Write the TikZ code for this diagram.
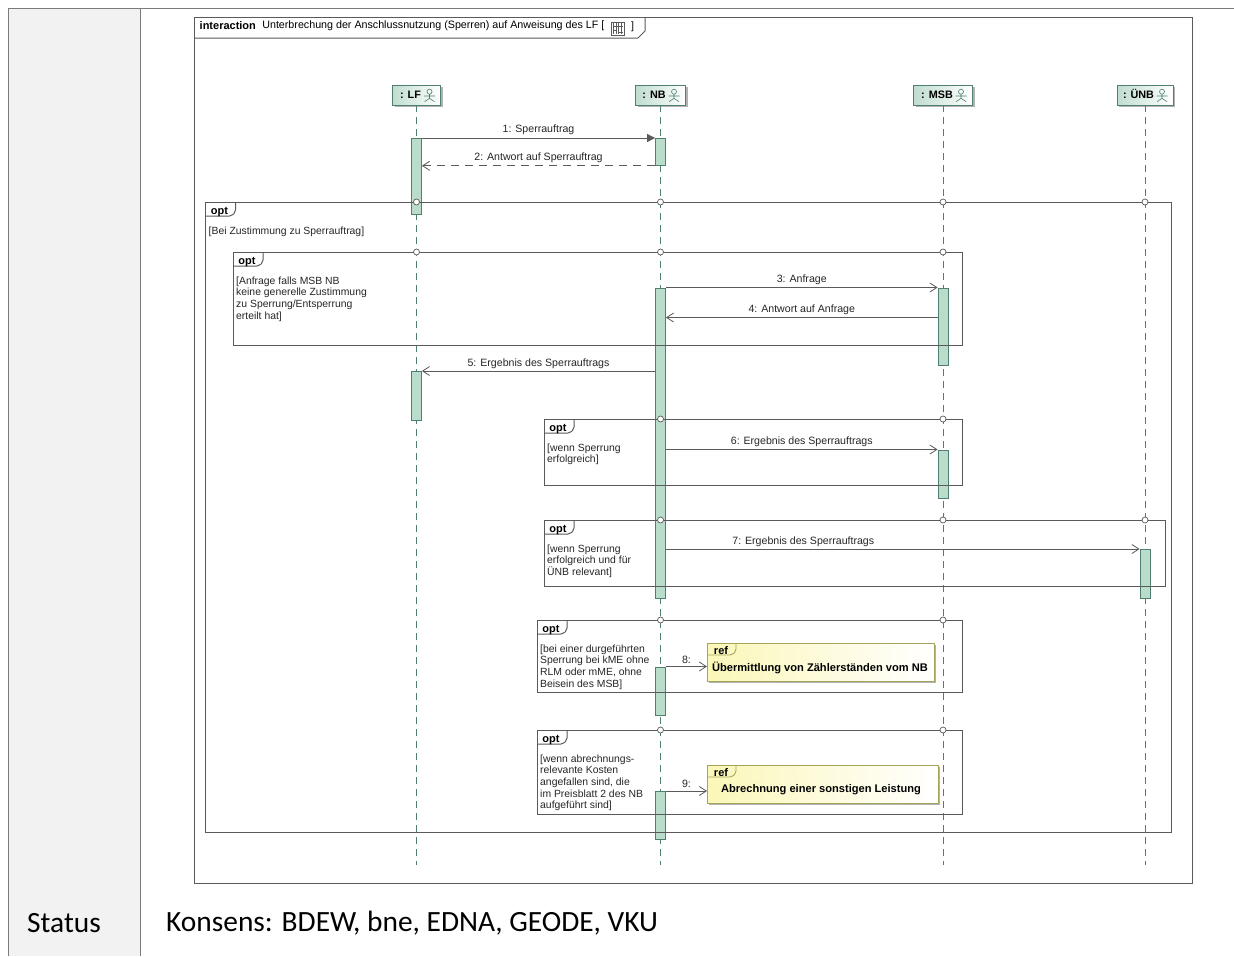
\documentclass[tikz,border=0pt]{standalone}
\usepackage{fontspec}
\setmainfont{Liberation Sans}
\newfontfamily\statusfont{Carlito}
\usetikzlibrary{positioning,shadows,arrows.meta}
\definecolor{linegray}{HTML}{5A5A5A}
\definecolor{lifegreen}{HTML}{4F7F70}
\definecolor{barfill}{HTML}{BADCCB}
\definecolor{headfill}{HTML}{BFDDCF}
\definecolor{reffill}{HTML}{FBF7B8}
\definecolor{refline}{HTML}{A5A55A}
\tikzset{
    lifehead/.style={draw=lifegreen,line width=0.9pt,left color=headfill,right color=white,minimum height=20pt,inner sep=0pt,text height=8pt,text depth=2pt,font=\fontsize{10.8}{12}\selectfont\bfseries,drop shadow={shadow xshift=2pt,shadow yshift=-2pt,fill=gray,opacity=0.6}},
    lifeline/.style={draw=lifegreen,line width=0.8pt,dash pattern=on 7pt off 5pt},
    bar/.style={draw=lifegreen,line width=0.8pt,fill=barfill,minimum width=10pt,inner sep=0pt,anchor=north},
    fragment/.style={draw=linegray,line width=1pt},
    fragdot/.style={circle,draw=linegray,fill=white,line width=0.7pt,minimum size=6pt,inner sep=0pt},
    msgline/.style={draw=linegray,line width=0.8pt},
    msgtext/.style={font=\fontsize{10.6}{12}\selectfont,text=black!85,inner sep=0pt},
    guardtext/.style={font=\fontsize{10.4}{11.6}\selectfont,text=black!85,align=left,anchor=north west,inner sep=0pt},
    tabtext/.style={font=\fontsize{11}{12}\selectfont\bfseries,inner sep=0pt},
    refbox/.style={draw=refline,line width=0.9pt,left color=reffill,right color=white,inner sep=0pt,anchor=north west,drop shadow={shadow xshift=2pt,shadow yshift=-2pt,fill=gray,opacity=0.6}},
    reftext/.style={font=\fontsize{11.1}{12}\selectfont\bfseries,inner sep=0pt},
    opena/.style={-{Straight Barb[length=7pt,width=9pt]}},
    fulla/.style={-{Triangle[length=8pt,width=8pt]}},
}
% frame with its tab: name, top left, bottom right, text
\newcommand{\optframe}[4]{
    \coordinate (#1) at (#2);
    \coordinate (#1e) at (#3);
    \draw[fragment] (#1) rectangle (#1e);
    \draw[fragment,rounded corners=2pt] (#1) ++(30,0) -- ++(0,10) -- ++(-4,4) -- ++(-26,0);
    \node[tabtext] (#1t) at ([xshift=14pt,yshift=-10pt]#1) {opt};
    \node[guardtext] (#1g) at ([xshift=3pt,yshift=-24.5pt]#1) {#4};
}
\newcommand{\actoricon}[1]{
    \begin{scope}[shift={(#1)},draw=lifegreen,line width=0.6pt]
        \draw (0,-3.3) circle (2.5);
        \draw (0,-0.8) -- (0,3.3) (-5.5,1) -- (5.5,1) (-5,6.7) -- (0,3.3) -- (5,6.7);
    \end{scope}
}
\begin{document}
\begin{tikzpicture}[x=1pt,y=-1pt]
    \useasboundingbox (0,0) rectangle (1234,956);
    \fill[white] (0,0) rectangle (1234,956);
    \fill[black!5] (8.5,8.5) rectangle (140.5,956);
    \draw[linegray!80,line width=0.8pt] (8.5,956) -- (8.5,8.5) -- (1234,8.5);
    \draw[linegray!80,line width=0.8pt] (140.5,8.5) -- (140.5,956);
    \node[font=\statusfont\fontsize{29.4}{32}\selectfont,anchor=west,inner sep=0pt] (status) at (27,923.5) {Status};
    \node[font=\statusfont\fontsize{29.4}{32}\selectfont,anchor=west,inner sep=0pt] (konsens) at (166,923.5) {Konsens: BDEW, bne, EDNA, GEODE, VKU};

    \draw[fragment] (194,17) rectangle (1192,883);
    \draw[fragment] (194,38) -- (638,38) -- (645,31) -- (645,17);
    \node[font=\fontsize{11}{12}\selectfont\bfseries,anchor=west,inner sep=0pt] (interaction) at (199.5,26) {interaction};
    \node[font=\fontsize{10.7}{12}\selectfont,anchor=west,inner sep=0pt,right=6pt of interaction,yshift=0.5pt] (title) {Unterbrechung der Anschlussnutzung (Sperren) auf Anweisung des LF [};
    \node[font=\fontsize{10.7}{12}\selectfont,anchor=west,inner sep=0pt] (closing) at (631,26.5) {]};
    \draw[linegray,line width=0.5pt] (611,22) rectangle (624,35);
    \foreach \i in {613.5,616,618.5,621}
    {
        \draw[linegray,line width=0.6pt] (\i,23) -- (\i,34);
    }
    \draw[linegray,line width=1pt] (612.5,26) -- (622.5,26) (613,30) -- (617,30) (618,32) -- (622.5,32);

    \node[lifehead,minimum width=48pt] (lf) at (416.5,95) {: LF\kern12pt};
    \node[lifehead,minimum width=50pt] (nb) at (660.5,95) {: NB\kern13pt};
    \node[lifehead,minimum width=59pt] (msb) at (943,95) {: MSB\kern12pt};
    \node[lifehead,minimum width=56pt] (unb) at (1145,95) {: ÜNB\kern13pt};
    \actoricon{429.5,95}
    \actoricon{674,95}
    \actoricon{961,95}
    \actoricon{1162,95}
    \coordinate (lifeend) at (0,865);
    \foreach \l in {lf,nb,msb,unb}
    {
        \draw[lifeline] (\l.south) -- (\l.south |- lifeend);
    }

    \node[bar,minimum height=76pt] (lfa) at (416.5,138) {};
    \node[bar,minimum height=49pt] (lfb) at (416.5,371) {};
    \node[bar,minimum height=27pt] (nba) at (660.5,138) {};
    \node[bar,minimum height=310pt] (nbb) at (660.5,287.5) {};
    \node[bar,minimum height=48pt] (nbc) at (660.5,666.5) {};
    \node[bar,minimum height=48pt] (nbd) at (660.5,791) {};
    \node[bar,minimum height=77pt] (msba) at (943,287.5) {};
    \node[bar,minimum height=48pt] (msbb) at (943,449.5) {};
    \node[bar,minimum height=49pt] (unba) at (1145,549) {};

    \optframe{fa}{205.5,202}{1171,832}{[Bei Zustimmung zu Sperrauftrag]}
    \optframe{fb}{233,252}{962,345}{[Anfrage falls MSB NB\\keine generelle Zustimmung\\zu Sperrung/Entsperrung\\erteilt hat]}
    \optframe{fc}{544,419}{962,485}{[wenn Sperrung\\erfolgreich]}
    \optframe{fd}{544,520}{1165,586}{[wenn Sperrung\\erfolgreich und für\\ÜNB relevant]}
    \optframe{fe}{537,620}{962,692}{[bei einer durgeführten\\Sperrung bei kME ohne\\RLM oder mME, ohne\\Beisein des MSB]}
    \optframe{ff}{537,730}{962,814}{[wenn abrechnungs-\\relevante Kosten\\angefallen sind, die\\im Preisblatt 2 des NB\\aufgeführt sind]}
    \foreach \f/\l in {fa/lf,fa/nb,fa/msb,fa/unb,fb/lf,fb/nb,fb/msb,fc/nb,fc/msb,fd/nb,fd/msb,fd/unb,fe/nb,fe/msb,ff/nb,ff/msb}
    {
        \node[fragdot] at (\l.south |- \f) {};
    }

    \node[refbox,minimum width=227pt,minimum height=38pt] (refa) at (707,643) {};
    \node[refbox,minimum width=231pt,minimum height=38pt] (refb) at (707,765) {};
    \foreach \r in {refa,refb}
    {
        \draw[refline,line width=0.9pt,rounded corners=2pt] (\r.north west) ++(29,0) -- ++(0,8) -- ++(-4,4) -- ++(-25,0);
        \node[tabtext] at ([xshift=14pt,yshift=-8pt]\r.north west) {ref};
    }
    \node[reftext] (refatext) at (820,667.5) {Übermittlung von Zählerständen vom NB};
    \node[reftext] (refbtext) at (821,790) {Abrechnung einer sonstigen Leistung};

    \draw[msgline,fulla] (lfa.north east) -- node[msgtext,above=2.5pt]{1: Sperrauftrag} (nba.north west);
    \draw[msgline,opena,dash pattern=on 8pt off 6pt] (nba.south west) -- node[msgtext,above=3pt]{2: Antwort auf Sperrauftrag} (nba.south west -| lfa.east);
    \draw[msgline,opena] (msba.north west -| nbb.east) -- node[msgtext,above=2pt]{3: Anfrage} (msba.north west);
    \coordinate (answer) at ([yshift=-30pt]msba.north west);
    \draw[msgline,opena] (answer) -- node[msgtext,above=2pt]{4: Antwort auf Anfrage} (answer -| nbb.east);
    \draw[msgline,opena] (lfb.north east -| nbb.west) -- node[msgtext,above=2pt]{5: Ergebnis des Sperrauftrags} (lfb.north east);
    \draw[msgline,opena] (msbb.north west -| nbb.east) -- node[msgtext,above=2pt]{6: Ergebnis des Sperrauftrags} (msbb.north west);
    \draw[msgline,opena] (unba.north west -| nbb.east) -- node[msgtext,above=2pt,pos=0.29]{7: Ergebnis des Sperrauftrags} (unba.north west);
    \draw[msgline,opena] (nbc.north east) -- node[msgtext,above=3pt]{8:} (nbc.north east -| refa.west);
    \draw[msgline,opena] (nbd.north east) -- node[msgtext,above=3pt]{9:} (nbd.north east -| refb.west);
\end{tikzpicture}
\end{document}
